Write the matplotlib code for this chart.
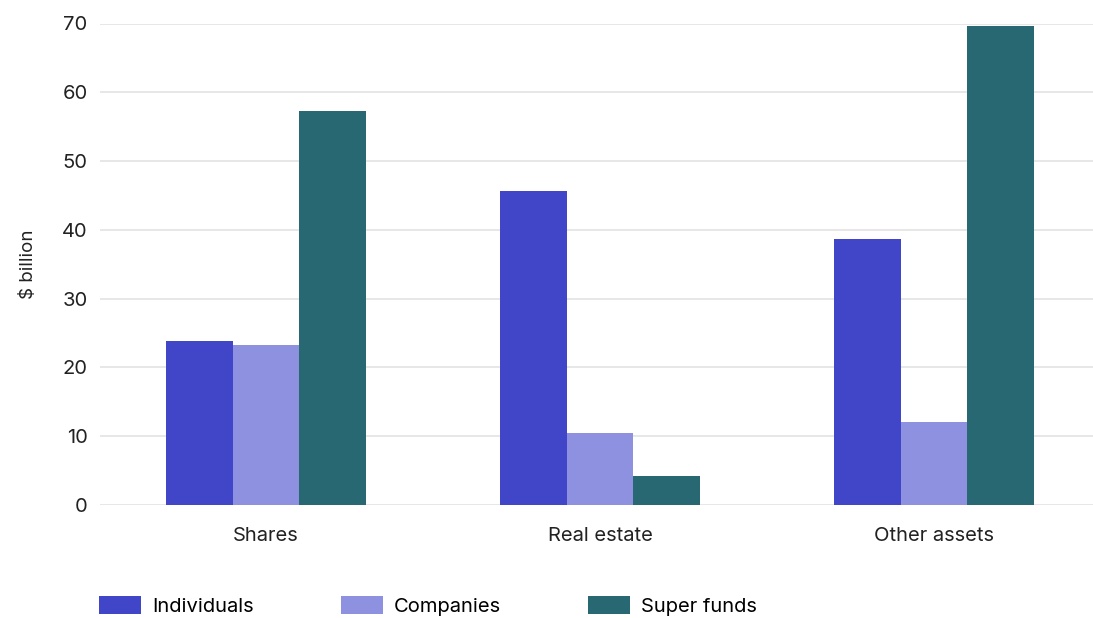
import numpy as np
import matplotlib
matplotlib.use("Agg")
import matplotlib.pyplot as plt

plt.rcParams['font.family'] = ['Inter', 'DejaVu Sans']

categories = ["Shares", "Real estate", "Other assets"]
series = ["Individuals", "Companies", "Super funds"]
individuals = [23.9, 45.7, 38.7]
companies = [23.3, 10.5, 12.1]
super_funds = [57.3, 4.2, 69.7]
colors = ["#4146C9", "#8D91E0", "#286872"]
yticks = [0, 10, 20, 30, 40, 50, 60, 70]

fig = plt.figure(figsize=(10.93, 6.18), dpi=100)
ax = fig.add_axes([100 / 1093, 1 - 505 / 618, 1 - 100 / 1093, (505 - 23.5) / 618])

x = np.arange(len(categories))
w = 0.2
for i, (name, vals) in enumerate(zip(series, [individuals, companies, super_funds])):
    ax.bar(x + (i - 1) * w, vals, w, color=colors[i], label=name, zorder=3)

ax.set_xlim(-0.497, 2.476)
ax.set_ylim(0, 70)
ax.set_yticks(yticks)
ax.set_xticks(x)
ax.set_xticklabels(categories)
ax.grid(axis='y', color='#e3e3e3', linewidth=1.2, zorder=0)
for s in ax.spines.values():
    s.set_visible(False)
ax.tick_params(axis='both', length=0, labelsize=14.5, colors='#222222')
ax.tick_params(axis='x', pad=16)
ax.tick_params(axis='y', pad=9)
ax.set_ylabel("$ billion", fontsize=13.5, color='#222222', labelpad=18)

fig.legend(loc='center left', bbox_to_anchor=(99 / 1093, 1 - 606 / 618), ncol=3, frameon=False,
           fontsize=14.5, handlelength=2.1, handleheight=1.0, columnspacing=4.3,
           handletextpad=0.55, borderaxespad=0, borderpad=0)

fig.savefig("out.png", dpi=100)
